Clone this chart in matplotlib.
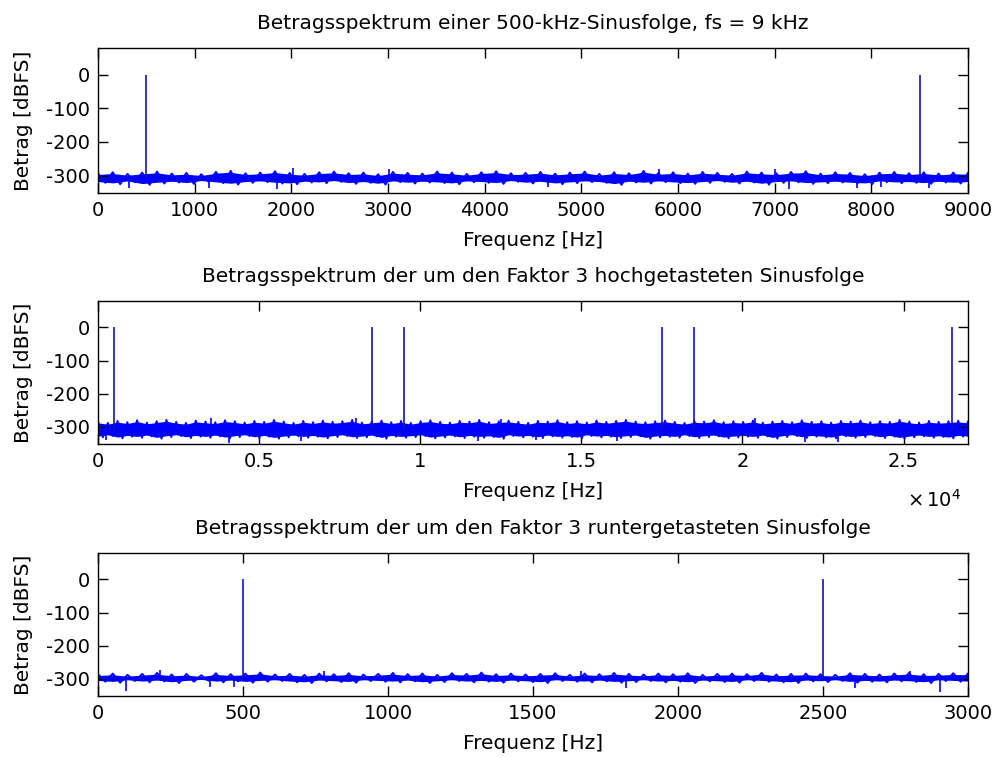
import numpy as np
import matplotlib
matplotlib.use("Agg")
import matplotlib.pyplot as plt
from matplotlib.ticker import FuncFormatter

plt.rcParams["font.family"] = ["DejaVu Sans"]
plt.rcParams["font.size"] = 14.5
plt.rcParams["axes.unicode_minus"] = False

BLUE = "#0000ff"

# --- Plot 1: 500 Hz sine, fs = 9 kHz ---
f1_max = 9000
f1_peaks = [500, 8500]
f1_peak_db = [0, 0]
n1_upper = [-293, -290, -295, -291, -288, -294, -292, -296, -289, -286, -293, -291,
            -287, -292, -295, -290, -288, -293, -291, -296, -289, -292, -294, -288,
            -291, -295, -290, -287, -293, -292, -289, -294, -291, -288, -295, -290,
            -293, -286, -292, -290, -294, -289, -292, -295, -288, -291, -293, -289,
            -287, -294, -290, -292, -296, -291, -289, -293, -290, -294, -291, -292]
n1_lower = [-322, -326, -320, -328, -324, -321, -325, -319, -323, -327, -322, -320,
            -324, -326, -321, -323, -319, -325, -322, -327, -320, -324, -321, -323,
            -326, -320, -322, -325, -319, -324, -321, -326, -323, -320, -322, -328,
            -321, -324, -320, -323, -325, -322, -319, -324, -321, -327, -322, -320,
            -325, -323, -321, -324, -326, -320, -323, -322, -325, -321, -324, -322]
n1_out_f = [320, 1150, 1850, 2020, 3010, 4650, 5800, 7000, 7150, 7850, 8100, 8600]
n1_out_db = [-338, -336, -340, -278, -280, -334, -282, -281, -340, -338, -334, -336]

# --- Plot 2: upsampled by 3, fs = 27 kHz ---
f2_max = 27000
f2_peaks = [500, 8500, 9500, 17500, 18500, 26500]
f2_peak_db = [0, 0, 0, 0, 0, 0]
n2_upper = [-284, -288, -282, -286, -280, -287, -283, -279, -285, -288, -281, -284,
            -286, -280, -283, -287, -282, -285, -279, -284, -288, -282, -286, -281,
            -285, -283, -279, -287, -284, -281, -286, -282, -288, -283, -280, -285,
            -287, -282, -284, -279, -286, -283, -281, -285, -288, -282, -284, -280,
            -286, -283, -287, -281, -285, -282, -279, -284, -286, -283, -281, -285,
            -288, -282, -284, -280, -286, -283, -285, -281, -287, -284, -282, -286,
            -280, -285, -283, -287, -282, -284, -281, -286, -283, -285, -279, -284,
            -287, -282, -285, -283, -281, -284]
n2_lower = [-332, -328, -335, -330, -333, -329, -336, -331, -328, -334, -330, -333,
            -329, -335, -331, -328, -334, -330, -336, -332, -329, -333, -330, -335,
            -331, -328, -334, -332, -329, -336, -330, -333, -331, -328, -335, -332,
            -329, -334, -330, -333, -331, -336, -328, -332, -330, -334, -329, -333,
            -331, -335, -328, -332, -330, -334, -331, -329, -336, -332, -330, -333,
            -328, -334, -331, -329, -335, -332, -330, -333, -329, -336, -331, -328,
            -334, -330, -332, -335, -329, -333, -331, -328, -334, -330, -336, -332,
            -329, -333, -331, -335, -330, -332]
n2_out_f = [250, 4050, 6300, 11800, 13600, 16100, 21950, 22950, 3500, 8000, 12500, 20400]
n2_out_db = [-340, -350, -342, -344, -341, -343, -347, -345, -273, -274, -275, -274]

# --- Plot 3: downsampled by 3, fs = 3 kHz ---
f3_max = 3000
f3_peaks = [500, 2500]
f3_peak_db = [0, 0]
n3_upper = [-286, -284, -288, -285, -282, -287, -285, -289, -283, -286, -284, -281,
            -287, -285, -288, -284, -286, -283, -287, -285, -282, -286, -284, -288,
            -283, -285, -281, -286, -284, -287, -285, -283, -288, -284, -286, -282,
            -285, -287, -284, -286, -283, -288, -285, -284, -286, -282, -287, -285,
            -284, -286, -288, -283, -285, -287, -284, -282, -286, -285, -283, -284]
n3_lower = [-309, -312, -307, -311, -308, -313, -309, -306, -311, -308, -312, -309,
            -307, -311, -313, -308, -310, -312, -307, -309, -311, -308, -313, -310,
            -307, -311, -309, -312, -308, -310, -313, -307, -309, -311, -308, -312,
            -310, -307, -311, -309, -313, -308, -310, -312, -307, -309, -311, -313,
            -308, -310, -307, -312, -309, -311, -308, -310, -313, -307, -309, -311]
n3_out_f = [95, 385, 470, 1820, 2610, 2905, 215, 780, 1665, 2800]
n3_out_db = [-336, -326, -325, -327, -328, -340, -274, -276, -275, -276]

titles = [
    "Betragsspektrum einer 500-kHz-Sinusfolge, fs = 9 kHz",
    "Betragsspektrum der um den Faktor 3 hochgetasteten Sinusfolge",
    "Betragsspektrum der um den Faktor 3 runtergetasteten Sinusfolge",
]

panels = [
    (f1_max, f1_peaks, f1_peak_db, n1_upper, n1_lower, n1_out_f, n1_out_db, np.arange(0, 9001, 1000)),
    (f2_max, f2_peaks, f2_peak_db, n2_upper, n2_lower, n2_out_f, n2_out_db, np.arange(0, 25001, 5000)),
    (f3_max, f3_peaks, f3_peak_db, n3_upper, n3_lower, n3_out_f, n3_out_db, np.arange(0, 3001, 500)),
]

fig = plt.figure(figsize=(9.96, 7.58), dpi=100)
rects = [[0.0984, 0.7454, 0.8735, 0.1913],
         [0.0984, 0.4142, 0.8735, 0.1887],
         [0.0984, 0.0818, 0.8735, 0.1887]]

for i, (fmax, peaks, peak_db, up, lo, of, odb, xt) in enumerate(panels):
    ax = fig.add_axes(rects[i])
    up = np.array(up, float)
    lo = np.array(lo, float)
    fx = np.linspace(0, fmax, len(up))
    step = fx[1] - fx[0]
    mid = (up + lo) / 2
    # dense core of the noise floor
    ax.fill_between(fx, lo + 4, up - 4, color=BLUE, lw=0)
    # jagged edge: alternate between the read-off upper and lower envelopes
    zx = np.column_stack([fx, fx + step / 2]).ravel()
    zy = np.column_stack([up, lo]).ravel()
    keep = zx <= fmax
    ax.plot(zx[keep], zy[keep], color=BLUE, lw=1.3)
    ax.vlines(of, np.interp(of, fx, mid), odb, color=BLUE, lw=1.2)
    ax.vlines(peaks, np.interp(peaks, fx, mid), peak_db, color="#1414b4", lw=1.2)

    ax.set_xlim(0, fmax)
    ax.set_ylim(-352, 80)
    ax.set_yticks([-300, -200, -100, 0])
    ax.set_xticks(xt)
    ax.tick_params(direction="in", top=True, right=True, length=7, width=1, pad=6,
                   labelsize=14)
    for s in ax.spines.values():
        s.set_linewidth(1)
    ax.set_title(titles[i], fontsize=14.5, pad=14)
    ax.set_xlabel("Frequenz [Hz]", labelpad=8)
    ax.set_ylabel("Betrag [dBFS]", labelpad=9)
    if i == 1:
        ax.xaxis.set_major_formatter(FuncFormatter(lambda v, p: f"{v / 1e4:g}"))
        ax.text(0.93, -0.39, r"$\times\,10^{4}$", transform=ax.transAxes,
                ha="left", va="center", fontsize=14)

fig.savefig("out.png", dpi=100)
